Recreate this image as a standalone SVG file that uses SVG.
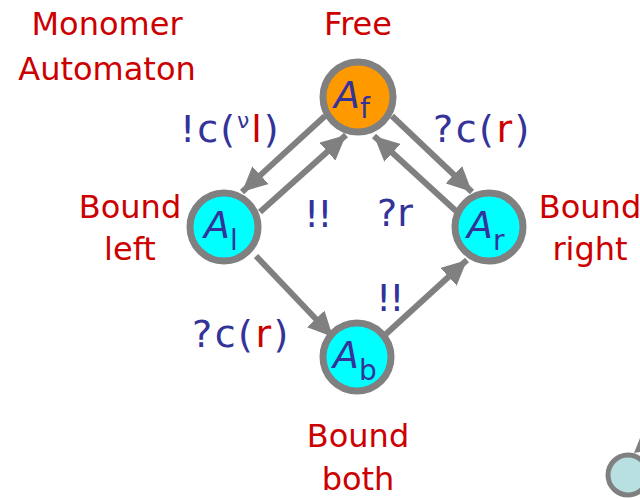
<svg xmlns="http://www.w3.org/2000/svg" width="640" height="498" viewBox="0 0 640 498">
<style>
.title{font-family:"DejaVu Sans","Liberation Sans",sans-serif;font-size:32px;fill:#CC0000;text-anchor:middle}
.lbl{font-family:"DejaVu Sans","Liberation Sans",sans-serif;font-size:38px;fill:#333399}
.red{fill:#CC0000}
.nl{font-family:"DejaVu Sans","Liberation Sans",sans-serif;font-size:38px;fill:#333399;font-style:italic}
.sub{font-size:28px;font-style:normal}
.node{stroke:#808080;stroke-width:7}
.edge{stroke:#808080;stroke-width:6;fill:none}
</style>
<defs>
<marker id="ah" markerUnits="userSpaceOnUse" markerWidth="26" markerHeight="24" refX="25" refY="12" orient="auto">
<path d="M0,0 L25,12 L0,24 Z" fill="#808080"/>
</marker>
</defs>
<g id="titles">
<text class="title" x="107" y="35">Monomer</text>
<text class="title" x="107" y="80">Automaton</text>
<text class="title" x="358" y="35">Free</text>
<text class="title" x="130" y="218">Bound</text>
<text class="title" x="130" y="260">left</text>
<text class="title" x="590" y="218">Bound</text>
<text class="title" x="590" y="260">right</text>
<text class="title" x="358" y="447">Bound</text>
<text class="title" x="358" y="490">both</text>
</g>
<g id="connectors">
<line class="edge" x1="325" y1="116" x2="242" y2="192" marker-end="url(#ah)"/>
<line class="edge" x1="260" y1="212" x2="346" y2="135" marker-end="url(#ah)"/>
<line class="edge" x1="392" y1="116" x2="472" y2="192" marker-end="url(#ah)"/>
<line class="edge" x1="456" y1="211" x2="374" y2="136" marker-end="url(#ah)"/>
<line class="edge" x1="256" y1="256" x2="333" y2="337" marker-end="url(#ah)"/>
<line class="edge" x1="386" y1="334" x2="467" y2="260" marker-end="url(#ah)"/>
<path d="M634,453 L640,438 L640,452 Z" fill="#808080"/>
</g>
<g id="edge-labels">
<text class="lbl" x="180" y="142" letter-spacing="2">!c(<tspan font-size="22" dy="-14">ν</tspan><tspan class="red" dy="14">l</tspan>)</text>
<text class="lbl" x="433" y="142" letter-spacing="2.5">?c(<tspan class="red">r</tspan>)</text>
<text class="lbl" x="304" y="227" letter-spacing="-2">!!</text>
<text class="lbl" x="377" y="226">?r</text>
<text class="lbl" x="376" y="311" letter-spacing="-2">!!</text>
<text class="lbl" x="192" y="347" letter-spacing="2.5">?c(<tspan class="red">r</tspan>)</text>
</g>
<g id="node-Af">
<circle class="node" cx="358" cy="97" r="35" fill="#FF9900"/>
<text class="nl" x="334" y="108">A<tspan class="sub" dy="10">f</tspan></text>
</g>
<g id="node-Al">
<circle class="node" cx="224" cy="227" r="34" fill="#00FFFF"/>
<text class="nl" x="204" y="238">A<tspan class="sub" dy="12">l</tspan></text>
</g>
<g id="node-Ar">
<circle class="node" cx="489" cy="227" r="34" fill="#00FFFF"/>
<text class="nl" x="467" y="238">A<tspan class="sub" dy="12">r</tspan></text>
</g>
<g id="node-Ab">
<circle class="node" cx="357" cy="357" r="34" fill="#00FFFF"/>
<text class="nl" x="333" y="368">A<tspan class="sub" dy="12">b</tspan></text>
</g>
<g id="node-partial">
<circle cx="628" cy="475" r="20" fill="#B8E0E0" stroke="#808080" stroke-width="5"/>
</g>
</svg>
